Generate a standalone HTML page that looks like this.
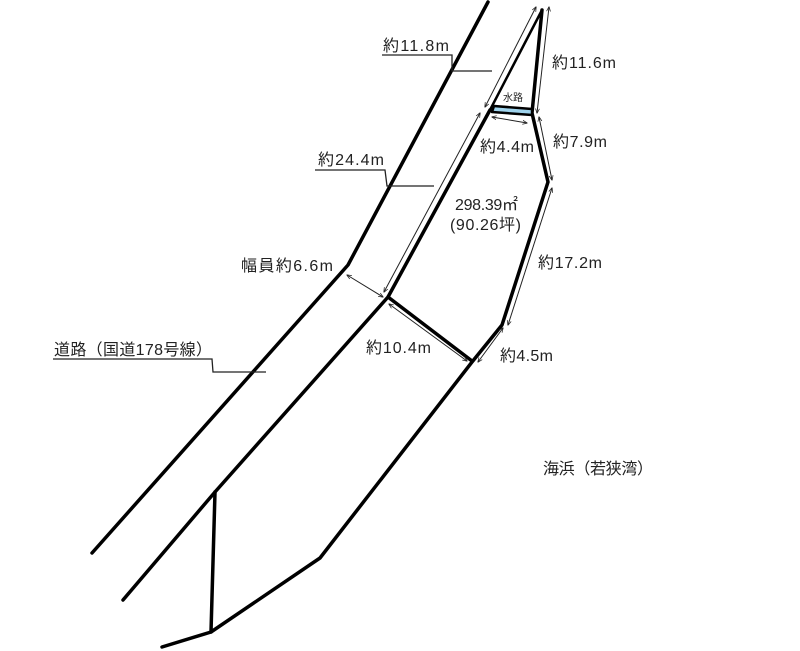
<!DOCTYPE html>
<html><head><meta charset="utf-8"><style>
html,body{margin:0;padding:0;background:#fff;width:800px;height:651px;overflow:hidden}
svg{display:block}
text{font-family:"Liberation Sans","Noto Sans CJK JP",sans-serif;fill:#222;font-size:16px}
</style></head><body>
<svg width="800" height="651" viewBox="0 0 800 651" xmlns="http://www.w3.org/2000/svg">
<defs>
<marker id="a" viewBox="0 0 10 10" refX="9" refY="5" markerWidth="5" markerHeight="5" orient="auto-start-reverse"><path d="M0,1 L10,5 L0,9" fill="none" stroke="#222" stroke-width="1.5"/></marker>
</defs>
<g fill="none" stroke="#000" stroke-linecap="round" stroke-linejoin="round">
<polyline points="488,2 348,265 92,553" stroke-width="3.5"/>
<polyline points="542,10 490,110" stroke-width="2.5"/>
<polyline points="490,110 388,297 215,492 123,600" stroke-width="3.5"/>
<polyline points="542,10 532,113 548,182 502,325 472,362 320,558 211,632 162,647" stroke-width="3.5"/>
<line x1="215" y1="492" x2="211" y2="632" stroke-width="3.5"/>
<line x1="388" y1="297" x2="472" y2="361" stroke-width="3.5"/>
<polygon points="494,106 532,109 532,115 492,112" fill="#9fd3ec" stroke-width="2.5"/>
</g>
<g stroke="#222" stroke-width="1" fill="none" marker-start="url(#a)" marker-end="url(#a)">
<line x1="485" y1="107" x2="536" y2="7"/>
<line x1="480" y1="113" x2="384" y2="292"/>
<line x1="549" y1="7" x2="537" y2="113"/>
<line x1="492" y1="117" x2="527" y2="123"/>
<line x1="539" y1="117" x2="552" y2="180"/>
<line x1="552" y1="188" x2="508" y2="325"/>
<line x1="503" y1="328" x2="478" y2="362"/>
<line x1="389" y1="304" x2="467" y2="361"/>
<line x1="347" y1="275" x2="383" y2="297"/>
</g>
<g stroke="#222" stroke-width="1.3" fill="none">
<polyline points="382,55 452,55 452,71 492,71"/>
<polyline points="315,170 385,170 387,186 434,186"/>
<polyline points="53,359 212,359 213,372 266,372"/>
</g>
<text x="383" y="51" textLength="66">約11.8m</text>
<text x="318" y="165" textLength="66">約24.4m</text>
<text x="54" y="355" textLength="158">道路（国道178号線）</text>
<text x="552" y="68" textLength="64">約11.6m</text>
<text x="553" y="147" textLength="54">約7.9m</text>
<text x="480" y="152" textLength="54">約4.4m</text>
<text x="503" y="101" style="font-size:10px">水路</text>
<text x="455" y="210" textLength="63">298.39㎡</text>
<text x="450" y="230" textLength="71">(90.26坪)</text>
<text x="538" y="268" textLength="64">約17.2m</text>
<text x="500" y="361" textLength="53">約4.5m</text>
<text x="366" y="353" textLength="65">約10.4m</text>
<text x="241" y="271" textLength="92">幅員約6.6m</text>
<text x="543" y="474" textLength="110">海浜（若狭湾）</text>
</svg>
</body></html>
